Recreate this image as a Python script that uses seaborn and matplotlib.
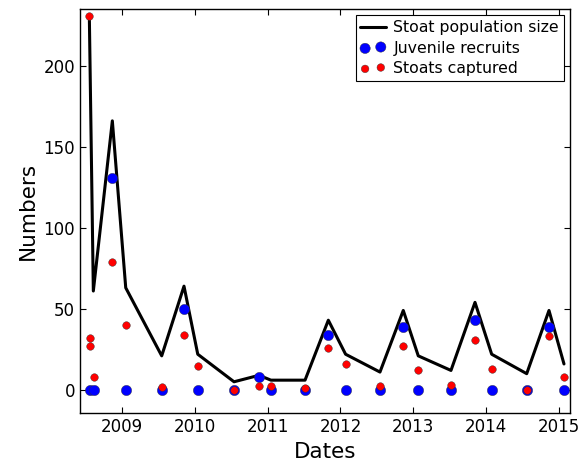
import numpy as np
import pandas as pd
import matplotlib
matplotlib.use("Agg")
import matplotlib.pyplot as plt
import seaborn as sns

# Survey dates (decimal years) for the population line
pop_dates = [2008.551, 2008.606, 2008.867, 2009.051, 2009.545, 2009.851, 2010.040,
             2010.538, 2010.881, 2011.045, 2011.513, 2011.833, 2012.070, 2012.542,
             2012.862, 2013.068, 2013.517, 2013.847, 2014.076, 2014.557, 2014.863,
             2015.069]
population = [231, 61, 166, 63, 21, 64, 22, 5, 9, 6, 6, 43, 22, 11, 49, 21, 12,
              54, 22, 10, 49, 16]

# Trapping session dates for the point series
sample_dates = [2008.551, 2008.556, 2008.565, 2008.612, 2008.867, 2009.051, 2009.545,
                2009.851, 2010.040, 2010.538, 2010.881, 2011.045, 2011.513, 2011.833,
                2012.070, 2012.542, 2012.862, 2013.068, 2013.517, 2013.847, 2014.076,
                2014.557, 2014.863, 2015.069]
recruits = [np.nan, 0, np.nan, 0, 131, 0, 0, 50, 0, 0, 8, 0, 0, 34, 0, 0, 39, 0, 0,
            43, 0, 0, 39, 0]
captured = [231, 27, 32, 8, 79, 40, 2, 34, 15, 0, 2.5, 2.5, 1, 26, 16, 2.5, 27, 12,
            3, 31, 13, 0, 33, 8]

year_ticks = [2009, 2010, 2011, 2012, 2013, 2014, 2015]

sns.set_style("ticks", {"xtick.direction": "in", "ytick.direction": "in",
                        "axes.edgecolor": "black", "text.color": "black",
                        "axes.labelcolor": "black"})
plt.rcParams['font.family'] = ['DejaVu Sans']

pop_df = pd.DataFrame({"date": pop_dates, "population": population})
pts_df = pd.DataFrame({"date": sample_dates, "recruits": recruits, "captured": captured})

fig = plt.figure(figsize=(5.81, 4.65), dpi=100)
ax = fig.add_axes([0.1377, 0.111, 0.8433, 0.8696])

sns.lineplot(data=pop_df, x="date", y="population", color="black", linewidth=2.2,
             label="Stoat population size", ax=ax, zorder=2)
sns.scatterplot(data=pts_df, x="date", y="recruits", color="#0000ff", s=55,
                edgecolor="#333333", linewidth=0.3, label="Juvenile recruits",
                ax=ax, zorder=3)
sns.scatterplot(data=pts_df, x="date", y="captured", color="#ff0000", s=30,
                edgecolor="#333333", linewidth=0.3, label="Stoats captured",
                ax=ax, zorder=4)

ax.set_xlim(2008.423, 2015.151)
ax.set_ylim(-14.5, 235)
ax.set_xticks(year_ticks)
ax.set_xticklabels([str(y) for y in year_ticks])
ax.set_yticks([0, 50, 100, 150, 200])
ax.tick_params(axis="both", which="major", labelsize=12, length=4, width=0.8,
               top=True, right=True, colors="black")
for sp in ax.spines.values():
    sp.set_visible(True)
    sp.set_linewidth(1.0)
    sp.set_color("black")

ax.set_xlabel("Dates", fontsize=15.5)
ax.set_ylabel("Numbers", fontsize=15.5)

leg = ax.legend(loc="upper right", scatterpoints=2, fontsize=11.3, handlelength=1.6,
                borderaxespad=0.4, labelspacing=0.35, handletextpad=0.5,
                borderpad=0.3, fancybox=False, framealpha=1)
leg.get_frame().set_edgecolor("black")
leg.get_frame().set_linewidth(0.8)

fig.savefig("out.png", dpi=100)
